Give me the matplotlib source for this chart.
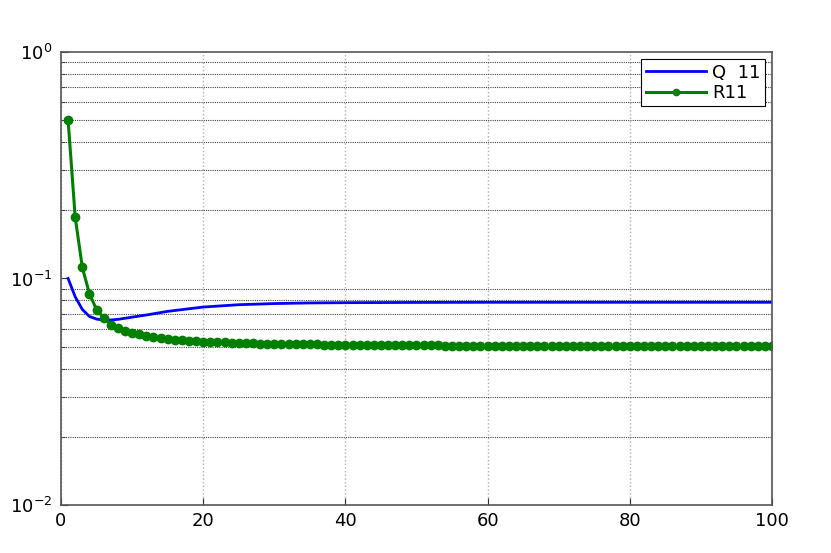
import matplotlib
matplotlib.use("Agg")
import matplotlib.pyplot as plt
from matplotlib.ticker import LogLocator

plt.rcParams['font.family'] = ['DejaVu Sans']
plt.rcParams['mathtext.default'] = 'regular'

# Q 11 (smooth curve, no markers)
q_x = [1, 2, 3, 4, 5, 6, 7, 8, 10, 12, 15, 20, 25, 30, 35, 40, 50, 60, 80, 100]
q_y = [0.100, 0.083, 0.073, 0.068, 0.0662, 0.0655, 0.0656, 0.0660, 0.0675, 0.0690,
       0.0716, 0.0748, 0.0766, 0.0775, 0.0780, 0.0782, 0.0784, 0.0785, 0.0785, 0.0785]

# R11, one value per iteration 1..100
r_x = list(range(1, 101))
r_y = [0.500, 0.186, 0.112, 0.0856, 0.0729, 0.0670, 0.0626, 0.0605, 0.0589, 0.0576,
       0.05660, 0.05580, 0.05512, 0.05456, 0.05410, 0.05372, 0.05340, 0.05312, 0.05288, 0.05267,
       0.05249, 0.05233, 0.05218, 0.05205, 0.05193, 0.05182, 0.05172, 0.05163, 0.05155, 0.05147,
       0.05140, 0.05134, 0.05128, 0.05122, 0.05117, 0.05112, 0.05107, 0.05103, 0.05099, 0.05095,
       0.05092, 0.05088, 0.05085, 0.05082, 0.05079, 0.05077, 0.05074, 0.05072, 0.05070, 0.05068,
       0.05066, 0.05064, 0.05062, 0.05060, 0.05059, 0.05057, 0.05056, 0.05054, 0.05053, 0.05052,
       0.05050, 0.05049, 0.05048, 0.05047, 0.05046, 0.05045, 0.05044, 0.05043, 0.05042, 0.05041,
       0.05040, 0.05040, 0.05039, 0.05038, 0.05037, 0.05037, 0.05036, 0.05035, 0.05035, 0.05034,
       0.05034, 0.05033, 0.05033, 0.05032, 0.05032, 0.05031, 0.05031, 0.05030, 0.05030, 0.05029,
       0.05029, 0.05029, 0.05028, 0.05028, 0.05027, 0.05027, 0.05027, 0.05026, 0.05026, 0.05026]

fig = plt.figure(figsize=(8.31, 5.53), dpi=100)
ax = fig.add_axes([0.0734, 0.0868, 0.8556, 0.8192])

ax.plot(q_x, q_y, color='#0000ff', lw=2, label='Q  11')
ax.plot(r_x, r_y, color='#008000', lw=2.2, marker='o', ms=6, label='R11', snap=False)

ax.set_yscale('log')
ax.set_xlim(0, 100)
ax.set_ylim(1e-2, 1e0)
ax.set_xticks([0, 20, 40, 60, 80, 100])
ax.yaxis.set_minor_locator(LogLocator(base=10, subs=range(2, 10)))

ax.grid(True, which='major', axis='x', color='#b0b0b0', linestyle=':', lw=1)
ax.grid(True, which='minor', axis='y', color='#444444', linestyle=(0, (1, 1)), lw=0.8)
ax.set_axisbelow(True)

ax.tick_params(which='both', direction='in', labelsize=13, color='#333333')
ax.tick_params(which='major', length=5)
ax.tick_params(which='minor', length=3)
ax.tick_params(axis='x', pad=5)
ax.tick_params(axis='y', pad=6)
for s in ax.spines.values():
    s.set_color('#555555')
    s.set_linewidth(1.2)

leg = ax.legend(loc='upper right', fontsize=13, fancybox=False, framealpha=1,
                edgecolor='black', borderaxespad=0.4, handlelength=3.3,
                handletextpad=0.35, borderpad=0.25, labelspacing=0.12,
                numpoints=1)
leg.get_frame().set_linewidth(0.8)
leg.legend_handles[1].set_markersize(4.5)

fig.savefig('out.png', dpi=100)
